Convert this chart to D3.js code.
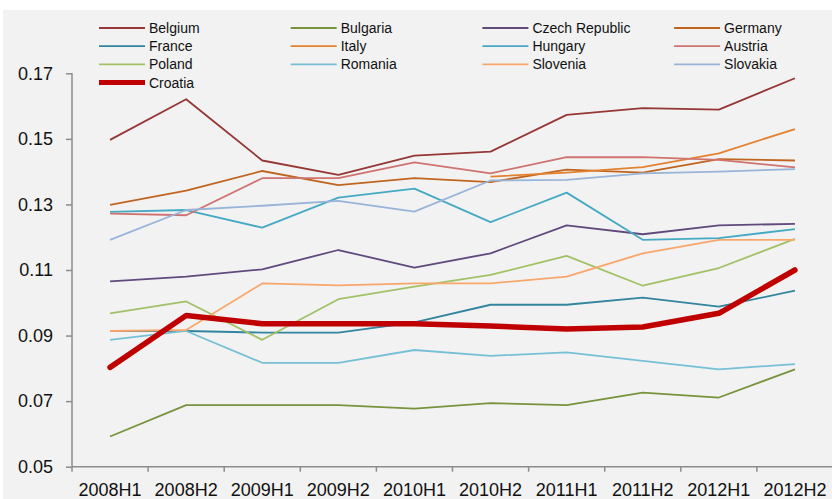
<!DOCTYPE html>
<html>
<head>
<meta charset="utf-8">
<script src="https://cdn.jsdelivr.net/npm/d3@7"></script>
<style>
  html, body { margin: 0; padding: 0; background: #ffffff; }
  svg { display: block; font-family: "Liberation Sans", Arial, sans-serif; }
</style>
</head>
<body>
<div id="chart"></div>
<script>
const periods = ['2008H1', '2008H2', '2009H1', '2009H2', '2010H1', '2010H2', '2011H1', '2011H2', '2012H1', '2012H2'];
const yTicks = [0.05, 0.07, 0.09, 0.11, 0.13, 0.15, 0.17];

const belgium  = [0.1497, 0.1621, 0.1434, 0.1390, 0.1449, 0.1461, 0.1573, 0.1594, 0.1589, 0.1685];
const bulgaria = [0.0592, 0.0688, 0.0688, 0.0688, 0.0677, 0.0694, 0.0688, 0.0726, 0.0711, 0.0797];
const czech    = [0.1065, 0.1080, 0.1102, 0.1161, 0.1107, 0.1151, 0.1236, 0.1209, 0.1236, 0.1241];
const germany  = [0.1299, 0.1342, 0.1402, 0.1359, 0.1380, 0.1368, 0.1406, 0.1397, 0.1438, 0.1434];
const france   = [0.0914, 0.0914, 0.0909, 0.0909, 0.0940, 0.0994, 0.0994, 0.1016, 0.0988, 0.1037];
const italy    = [null, null, null, null, null, 0.1385, 0.1397, 0.1414, 0.1456, 0.1530];
const hungary  = [0.1277, 0.1283, 0.1229, 0.1321, 0.1348, 0.1246, 0.1336, 0.1192, 0.1197, 0.1225];
const austria  = [0.1272, 0.1267, 0.1380, 0.1380, 0.1428, 0.1395, 0.1444, 0.1444, 0.1436, 0.1413];
const poland   = [0.0968, 0.1004, 0.0887, 0.1011, 0.1049, 0.1085, 0.1143, 0.1052, 0.1106, 0.1195];
const romania  = [0.0887, 0.0914, 0.0817, 0.0817, 0.0856, 0.0838, 0.0849, 0.0823, 0.0797, 0.0813];
const slovenia = [0.0914, 0.0917, 0.1059, 0.1053, 0.1059, 0.1059, 0.1080, 0.1151, 0.1192, 0.1192];
const slovakia = [0.1192, 0.1283, 0.1296, 0.1311, 0.1278, 0.1373, 0.1375, 0.1395, 0.1400, 0.1408];
const croatia  = [0.0803, 0.0961, 0.0936, 0.0936, 0.0936, 0.0929, 0.0920, 0.0926, 0.0968, 0.1100];

// legend order, row by row
const series = [
  { name: 'Belgium',        values: belgium,  color: '#953735' },
  { name: 'Bulgaria',       values: bulgaria, color: '#77933c' },
  { name: 'Czech Republic', values: czech,    color: '#604a7b' },
  { name: 'Germany',        values: germany,  color: '#c0651f' },
  { name: 'France',         values: france,   color: '#31859c' },
  { name: 'Italy',          values: italy,    color: '#e3812f' },
  { name: 'Hungary',        values: hungary,  color: '#45a9c3' },
  { name: 'Austria',        values: austria,  color: '#cf7370' },
  { name: 'Poland',         values: poland,   color: '#a2c165' },
  { name: 'Romania',        values: romania,  color: '#76c0d6' },
  { name: 'Slovenia',       values: slovenia, color: '#f9a66c' },
  { name: 'Slovakia',       values: slovakia, color: '#98b4d8' },
  { name: 'Croatia',        values: croatia,  color: '#c00000', thick: true }
];

const W = 832, H = 499;
const svg = d3.select('#chart').append('svg')
  .attr('width', W)
  .attr('height', H);

// chart area background
svg.append('rect')
  .attr('x', 3).attr('y', 10)
  .attr('width', W - 3).attr('height', H - 10)
  .attr('fill', '#f2f2f2');

const x = d3.scaleBand()
  .domain(periods)
  .range([72, 833]);

const y = d3.scaleLinear()
  .domain([0.05, 0.17])
  .range([466.7, 73.3]);

const axisColor = '#8c8c8c';

// y axis
const yAxis = svg.append('g')
  .attr('transform', 'translate(72,0)')
  .call(d3.axisLeft(y).tickValues(yTicks).tickFormat(d3.format('.2f')).tickSize(6).tickPadding(13));
yAxis.select('.domain').remove();
yAxis.append('line')
  .attr('x1', 0).attr('x2', 0)
  .attr('y1', y(0.17)).attr('y2', y(0.05))
  .attr('stroke', axisColor).attr('stroke-width', 1.5);
yAxis.selectAll('.tick line').attr('stroke', axisColor).attr('stroke-width', 1.5);
yAxis.selectAll('.tick text')
  .attr('fill', '#111')
  .style('font-size', '18px');

// x axis, ticks between categories
const xg = svg.append('g').attr('transform', `translate(0,${y(0.05)})`);
xg.append('line')
  .attr('x1', 72).attr('x2', W)
  .attr('stroke', axisColor).attr('stroke-width', 1.5);
xg.selectAll('.xtick')
  .data(periods)
  .enter().append('line')
  .attr('x1', d => x(d)).attr('x2', d => x(d))
  .attr('y1', 0).attr('y2', 5)
  .attr('stroke', axisColor).attr('stroke-width', 1.5);
xg.selectAll('.xlabel')
  .data(periods)
  .enter().append('text')
  .attr('x', d => x(d) + x.bandwidth() / 2)
  .attr('y', 29.8)
  .attr('text-anchor', 'middle')
  .attr('fill', '#111')
  .style('font-size', '18px')
  .text(d => d);

// lines
const line = d3.line()
  .defined(d => d != null)
  .x((d, i) => x(periods[i]) + x.bandwidth() / 2)
  .y(d => y(d));

svg.append('g').selectAll('path')
  .data(series)
  .enter().append('path')
  .attr('fill', 'none')
  .attr('stroke', d => d.color)
  .attr('stroke-width', d => d.thick ? 5.5 : 1.8)
  .attr('stroke-linejoin', 'round')
  .attr('stroke-linecap', d => d.thick ? 'round' : 'butt')
  .attr('d', d => line(d.values));

// legend, four columns
const legend = svg.append('g');
const item = legend.selectAll('g')
  .data(series)
  .enter().append('g')
  .attr('transform', (d, i) => `translate(${99 + (i % 4) * 191.7},${28 + Math.floor(i / 4) * 18.2})`);
item.append('line')
  .attr('x1', 0).attr('x2', 46)
  .attr('stroke', d => d.color)
  .attr('stroke-width', d => d.thick ? 5 : 1.8);
item.append('text')
  .attr('x', 50)
  .attr('dy', '0.35em')
  .attr('fill', '#111')
  .style('font-size', '14px')
  .text(d => d.name);
</script>
</body>
</html>
